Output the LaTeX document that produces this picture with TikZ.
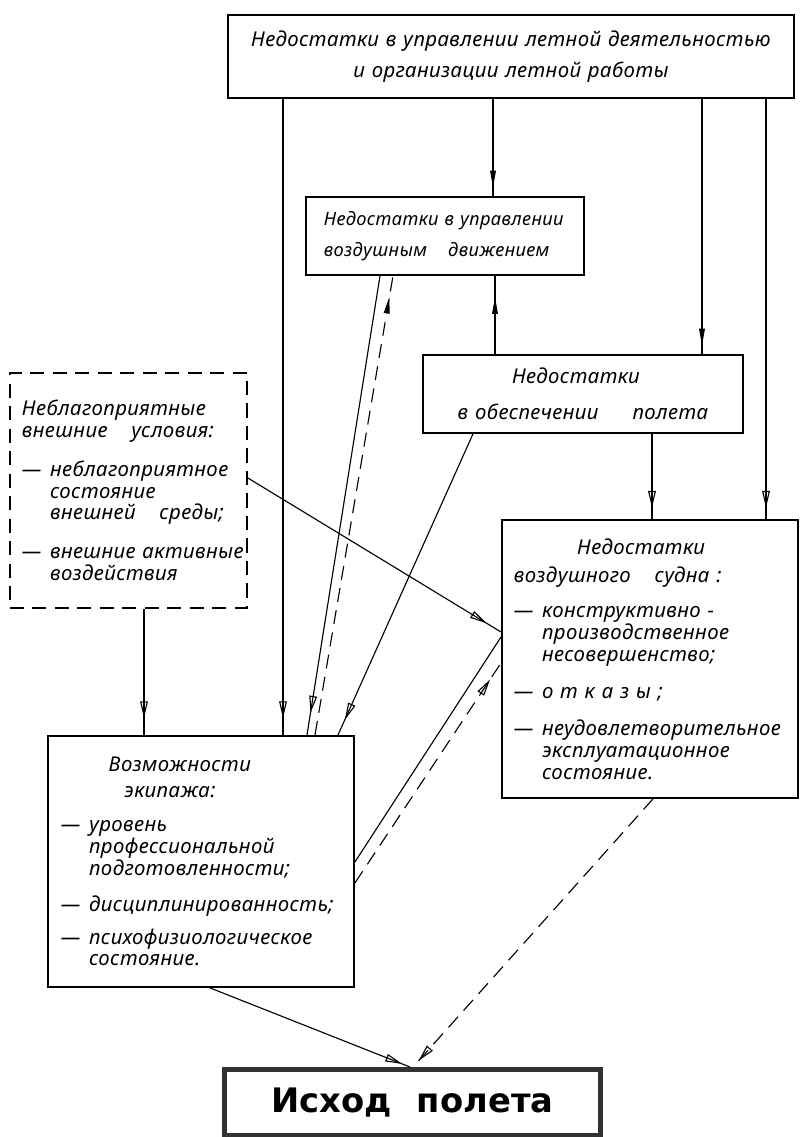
\documentclass[tikz,border=0pt]{standalone}
\usepackage{fontspec}
\newfontfamily\draftfont{Noto Sans}[LetterSpace=2]
\newfontfamily\titlefont{DejaVu Sans}
\usetikzlibrary{arrows.meta,decorations.markings}
\newcommand\listdash{\makebox[20pt][l]{—}}
\newcommand\listcont{\hspace*{20pt}}
\tikzset{
  fault-box/.style={draw=black, line width=1.3pt, anchor=north west, inner ysep=0pt,
    font=\draftfont\itshape\fontsize{14.5}{15.5}\selectfont, align=left,
    execute at begin node={\hyphenpenalty=10000\exhyphenpenalty=10000\relax}},
  fault-dashed/.style={dash pattern=on 10pt off 6pt},
  fault-flow/.style={line width=0.8pt, postaction={decorate},
    decoration={markings, mark=at position #1 with {\arrow{Triangle[open, length=12pt, width=5.5pt, line width=0.8pt]}}}},
  fault-flow/.default=-8pt,
  fault-flowb/.style={line width=0.8pt, postaction={decorate},
    decoration={markings, mark=at position #1 with {\arrow{Triangle[length=12pt, width=4pt]}}}},
  fault-flowb/.default=-6pt
}

\begin{document}
\begin{tikzpicture}[x=0.025cm, y=-0.025cm]
  \useasboundingbox (0,0) rectangle (801,1137);

  % Boxes
  \node[fault-box, align=center, inner xsep=0pt, text width=14.15cm, minimum height=2.075cm,
    font=\draftfont\itshape\fontsize{14.5}{16}\selectfont] (mgmt) at (227,14)
    {Недостатки в~управлении летной~деятельностью\\[6pt]и организации летной работы\hspace*{70pt}};
  \node[fault-box, inner xsep=0.45cm, text width=6.05cm, minimum height=1.95cm,
    font=\draftfont\itshape\fontsize{13}{14}\selectfont] (atc) at (305,196)
    {Недостатки~в~управлении\\[8pt]воздушным~\enspace~движением};
  \node[fault-box, align=center, inner xsep=0pt, text width=8cm, minimum height=1.95cm] (support) at (422,354)
    {\hspace*{-10pt}Недостатки\\[10pt]в~обеспечении~\quad~полета};
  \node[fault-box, fault-dashed, inner xsep=0.3cm, text width=5.325cm, minimum height=5.875cm] (env) at (9,372)
    {Неблагоприятные\\внешние~\enspace~условия:\\[12pt]
     \listdash неблагоприятное\\\listcont состояние\\\listcont внешней~\enspace~среды;\\[12pt]
     \listdash внешние~активные\\\listcont воздействия};
  \node[fault-box, inner xsep=0.3cm, text width=6.8cm, minimum height=6.95cm] (craft) at (501,519)
    {\hspace*{45pt}Недостатки\\[5pt]воздушного~\enspace~судна~:\\[9pt]
     \listdash конструктивно~-\\\listcont производственное\\\listcont несовершенство;\\[11pt]
     \listdash о~т~к~а~з~ы~;\\[11pt]
     \listdash неудовлетворительное\\\listcont эксплуатационное\\\listcont состояние.};
  \node[fault-box, inner xsep=0.325cm, text width=7.0cm, minimum height=6.275cm] (crew) at (47,735)
    {\hspace*{34pt}Возможности\\[3pt]\hspace*{45pt}экипажа:\\[9pt]
     \listdash уровень\\\listcont профессиональной\\\listcont подготовленности;\\[10pt]
     \listdash дисциплинированность;\\[8pt]
     \listdash психофизиологическое\\\listcont состояние.};
  \node[draw=black!80, line width=3.2pt, anchor=north west, minimum width=9.4cm, minimum height=1.65cm,
    font=\titlefont\bfseries\fontsize{24}{28}\selectfont] (outcome) at (222,1067)
    {Исход\hspace{18pt}полета};

  % From the top box
  \draw[fault-flowb] (493,0 |- mgmt.south) -- (493,0 |- atc.north);
  \draw[fault-flowb] (702,0 |- mgmt.south) -- (702,0 |- support.north);
  \draw[fault-flow] (766,0 |- mgmt.south) -- (766,0 |- craft.north);
  \draw[fault-flow=-12pt] (283,0 |- mgmt.south) -- (283,0 |- crew.north);

  % Flight support
  \draw[fault-flowb=-15pt] (495,0 |- support.north) -- (495,0 |- atc.south);
  \draw[fault-flow] (652,0 |- support.south) -- (652,0 |- craft.north);
  \draw[fault-flow=-12pt] (473,0 |- support.south) -- (338,0 |- crew.north);

  % ATC and crew
  \draw[fault-flow=-16pt] (380,0 |- atc.south) -- (307,0 |- crew.north);
  \draw[fault-flowb=-15pt, fault-dashed] (315,0 |- crew.north) -- (393,0 |- atc.south);

  % External conditions
  \draw[fault-flow=-12pt] (144,0 |- env.south) -- (144,0 |- crew.north);
  \draw[fault-flow=-12pt] (env.east |- 0,478) -- (craft.west |- 0,632);

  % Crew and aircraft
  \draw[line width=0.8pt] (crew.east |- 0,862) -- (craft.west |- 0,637);
  \draw[fault-flow=-14pt, fault-dashed] (crew.east |- 0,883) -- (craft.west |- 0,663);

  % Outcome
  \draw[fault-flow=-6pt] (210,0 |- crew.south) -- (410,0 |- outcome.north);
  \draw[fault-flow=-6pt, fault-dashed] (653,0 |- craft.south) -- (413,0 |- outcome.north);
\end{tikzpicture}
\end{document}
